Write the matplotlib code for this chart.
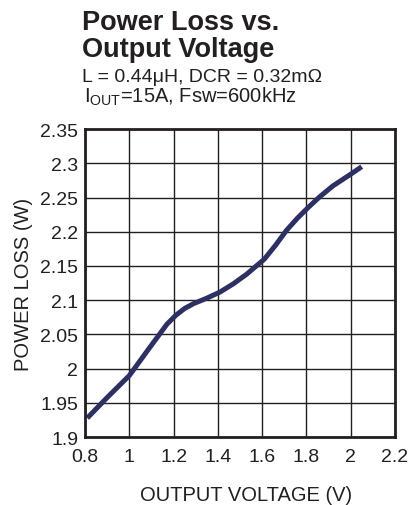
import matplotlib.pyplot as plt

plt.rcParams['font.family'] = ['Liberation Sans', 'DejaVu Sans']
plt.rcParams['mathtext.fontset'] = 'custom'
plt.rcParams['mathtext.rm'] = 'Liberation Sans'
plt.rcParams['mathtext.it'] = 'Liberation Sans:italic'
plt.rcParams['mathtext.bf'] = 'Liberation Sans:bold'

# values
vout = [0.81, 0.90, 1.00, 1.09, 1.17, 1.21, 1.25, 1.29, 1.35, 1.41, 1.47, 1.53,
        1.61, 1.66, 1.71, 1.76, 1.81, 1.86, 1.92, 2.00, 2.05]
ploss = [1.928, 1.958, 1.990, 2.030, 2.065, 2.078, 2.088, 2.095, 2.103, 2.112,
         2.124, 2.138, 2.160, 2.180, 2.202, 2.220, 2.236, 2.251, 2.267, 2.284, 2.295]

xticks = [0.8, 1.0, 1.2, 1.4, 1.6, 1.8, 2.0, 2.2]
xlabels = ['0.8', '1', '1.2', '1.4', '1.6', '1.8', '2', '2.2']
yticks = [1.9, 1.95, 2.0, 2.05, 2.1, 2.15, 2.2, 2.25, 2.3, 2.35]
ylabels = ['1.9', '1.95', '2', '2.05', '2.1', '2.15', '2.2', '2.25', '2.3', '2.35']

txt = '#231f20'
line_col = '#2e2f63'

fig = plt.figure(figsize=(4.17, 5.06), dpi=100)
ax = fig.add_axes([0.204, 0.134, 0.743, 0.609])

ax.plot(vout, ploss, color=line_col, lw=3.6, solid_capstyle='butt', solid_joinstyle='round')
ax.set_xlim(0.8, 2.2)
ax.set_ylim(1.9, 2.35)
ax.set_xticks(xticks)
ax.set_xticklabels(xlabels)
ax.set_yticks(yticks)
ax.set_yticklabels(ylabels)
ax.tick_params(length=0, labelsize=14, colors=txt)
ax.tick_params(axis='y', pad=5)
ax.tick_params(axis='x', pad=8)
ax.grid(True, color='#231f20', lw=1.0)
ax.set_axisbelow(True)
for s in ax.spines.values():
    s.set_linewidth(2.0)
    s.set_color(txt)

ax.set_xlabel('OUTPUT VOLTAGE (V)', fontsize=14.5, color=txt, labelpad=14, x=0.52)
ax.set_ylabel('POWER LOSS (W)', fontsize=14.5, color=txt, labelpad=5)

# title block
fig.text(82 / 417, 1 - 30 / 506, 'Power Loss vs.', fontsize=19.5, fontweight='bold',
         color=txt, va='baseline', ha='left')
fig.text(82 / 417, 1 - 57 / 506, 'Output Voltage', fontsize=19.5, fontweight='bold',
         color=txt, va='baseline', ha='left')
fig.text(82 / 417, 1 - 82 / 506, 'L = 0.44\u03bcH, DCR = 0.32m\u03a9', fontsize=14,
         color=txt, va='baseline', ha='left')
fig.text(84 / 417, 1 - 103 / 506, r'I$_{\mathrm{OUT}}$=15A, Fsw=600kHz', fontsize=14.5,
         color=txt, va='baseline', ha='left')

fig.savefig('out.png', dpi=100)
